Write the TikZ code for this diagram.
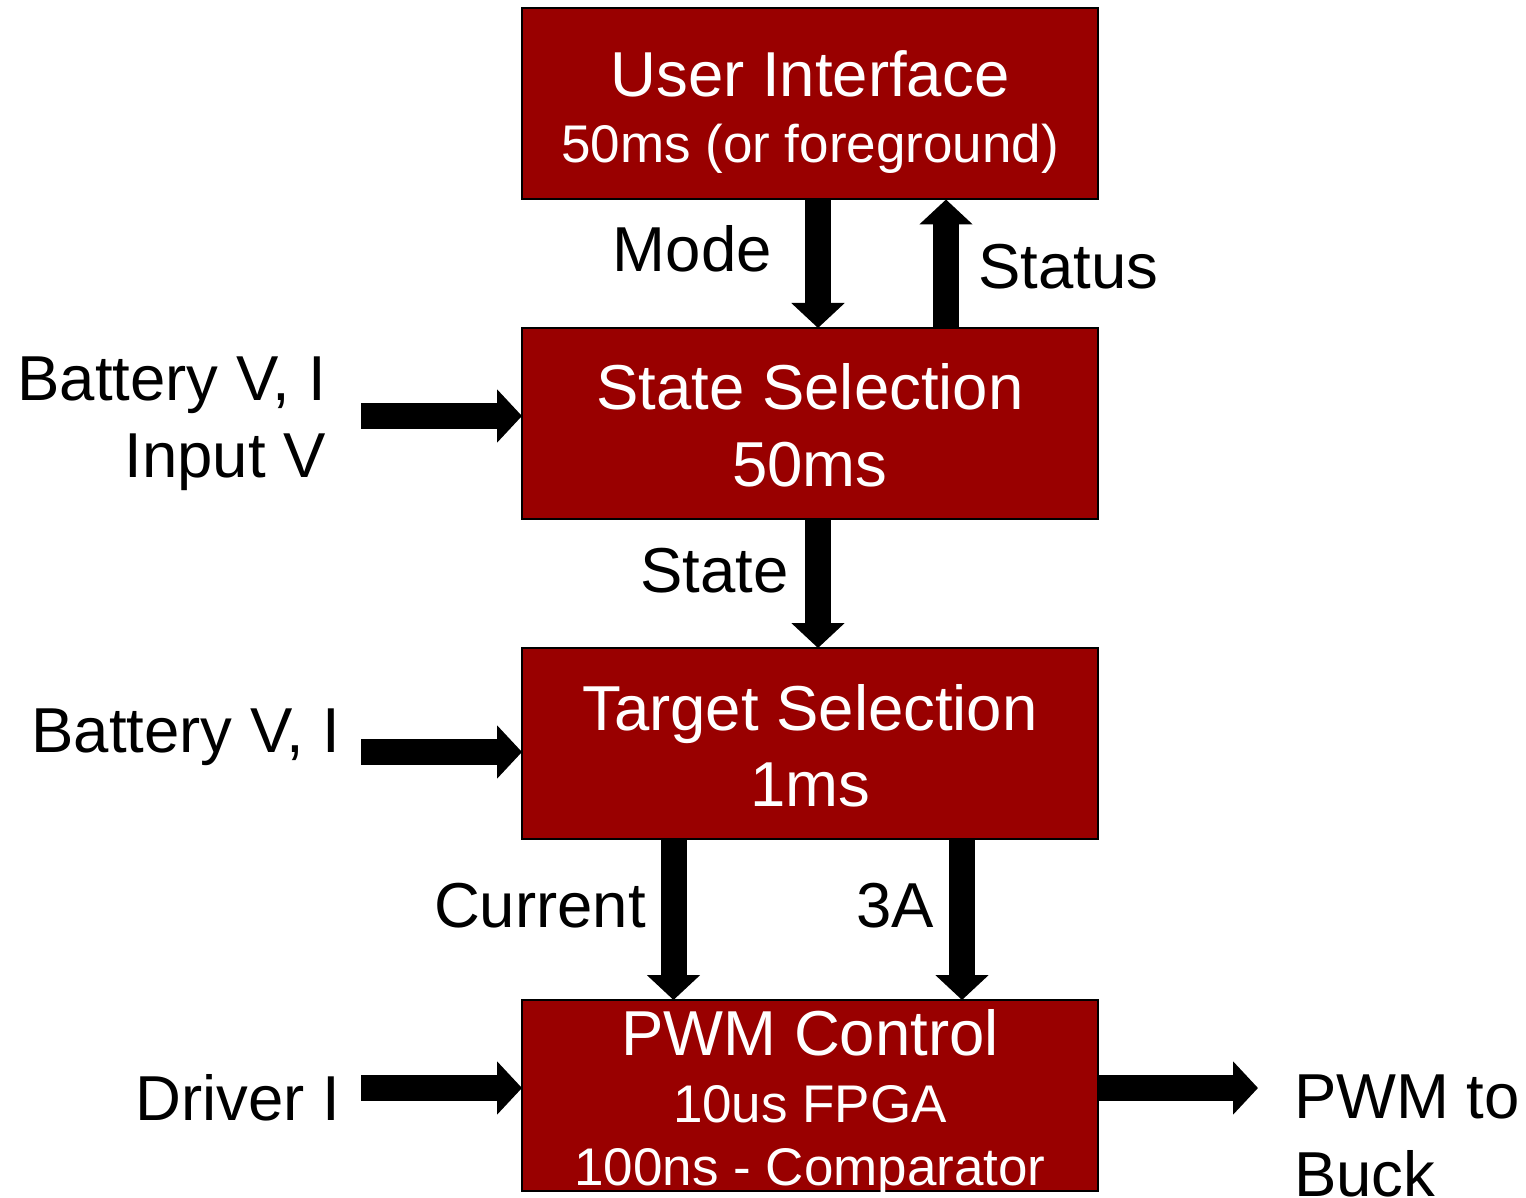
\documentclass[tikz,border=0pt]{standalone}
\usepackage{fontspec}
\setmainfont{Liberation Sans}
\usetikzlibrary{arrows.meta}
\definecolor{boxred}{HTML}{990000}
\tikzset{
  blk/.style={draw=black, line width=2pt, fill=boxred, minimum width=576pt, minimum height=191pt, inner sep=0pt, outer sep=0pt},
  big/.style={font=\fontsize{63.5}{77}\selectfont, inner sep=0pt},
  small/.style={font=\fontsize{53}{63}\selectfont, inner sep=0pt},
  intxt/.style={text=white, anchor=base},
  lbl/.style={text=black},
  fat/.style={line width=26pt, -{Triangle[width=52pt,length=25pt]}}
}
\begin{document}
\begin{tikzpicture}[x=1pt,y=-1pt]
\useasboundingbox (0,0) rectangle (1526,1198);
% boxes
\node[blk] (ui) at (810,104) {};
\node[blk] (ss) at (810,423.5) {};
\node[blk] (ts) at (810,743.5) {};
\node[blk] (pwm) at (810,1095.5) {};
% box texts
\node[big,intxt] (ui1) at (810,97) {User Interface};
\node[small,intxt] (ui2) at (810,163) {50ms (or foreground)};
\node[big,intxt] (ss1) at (810,409) {State Selection};
\node[big,intxt] (ss2) at (810,486) {50ms};
\node[big,intxt] (ts1) at (810,730) {Target Selection};
\node[big,intxt] (ts2) at (810,806) {1ms};
\node[big,intxt] (pw1) at (810,1055) {PWM Control};
\node[small,intxt] (pw2) at (810,1122) {10us FPGA};
\node[small,intxt] (pw3) at (810,1185) {100ns - Comparator};
% free ends
\coordinate (inA) at (361,416);
\coordinate (inB) at (361,752);
\coordinate (inC) at (361,1088);
\coordinate (outD) at (1258,1088);
% connectors
\draw[fat] ([xshift=8pt]ui.south) -- ([xshift=8pt]ss.north);
\draw[fat] ([xshift=136pt]ss.north) -- ([xshift=136pt]ui.south);
\draw[fat] ([xshift=8pt]ss.south) -- ([xshift=8pt]ts.north);
\draw[fat] ([xshift=-136.5pt]ts.south) -- ([xshift=-136.5pt]pwm.north);
\draw[fat] ([xshift=152pt]ts.south) -- ([xshift=152pt]pwm.north);
\draw[fat] (inA) -- (inA -| ss.west);
\draw[fat] (inB) -- (inB -| ts.west);
\draw[fat] (inC) -- (inC -| pwm.west);
\draw[fat] (outD -| pwm.east) -- (outD);
% labels
\node[big,lbl,anchor=base east] (lMode) at (772,272) {Mode};
\node[big,lbl,anchor=base west] (lStatus) at (978,289) {Status};
\node[big,lbl,anchor=base east] (lState) at (789,592) {State};
\node[big,lbl,anchor=base east] (lCur) at (646,927) {Current};
\node[big,lbl,anchor=base east] (l3A) at (934,927) {3A};
\node[big,lbl,anchor=base east] (lBat1) at (326,400) {Battery V, I};
\node[big,lbl,anchor=base east] (lInp) at (326,477) {Input V};
\node[big,lbl,anchor=base east] (lBat2) at (340,752) {Battery V, I};
\node[big,lbl,anchor=base east] (lDrv) at (340,1120) {Driver I};
\node[big,lbl,anchor=base west] (lPwm) at (1294,1118) {PWM to};
\node[big,lbl,anchor=base west] (lBuck) at (1294,1196) {Buck};
\end{tikzpicture}
\end{document}
